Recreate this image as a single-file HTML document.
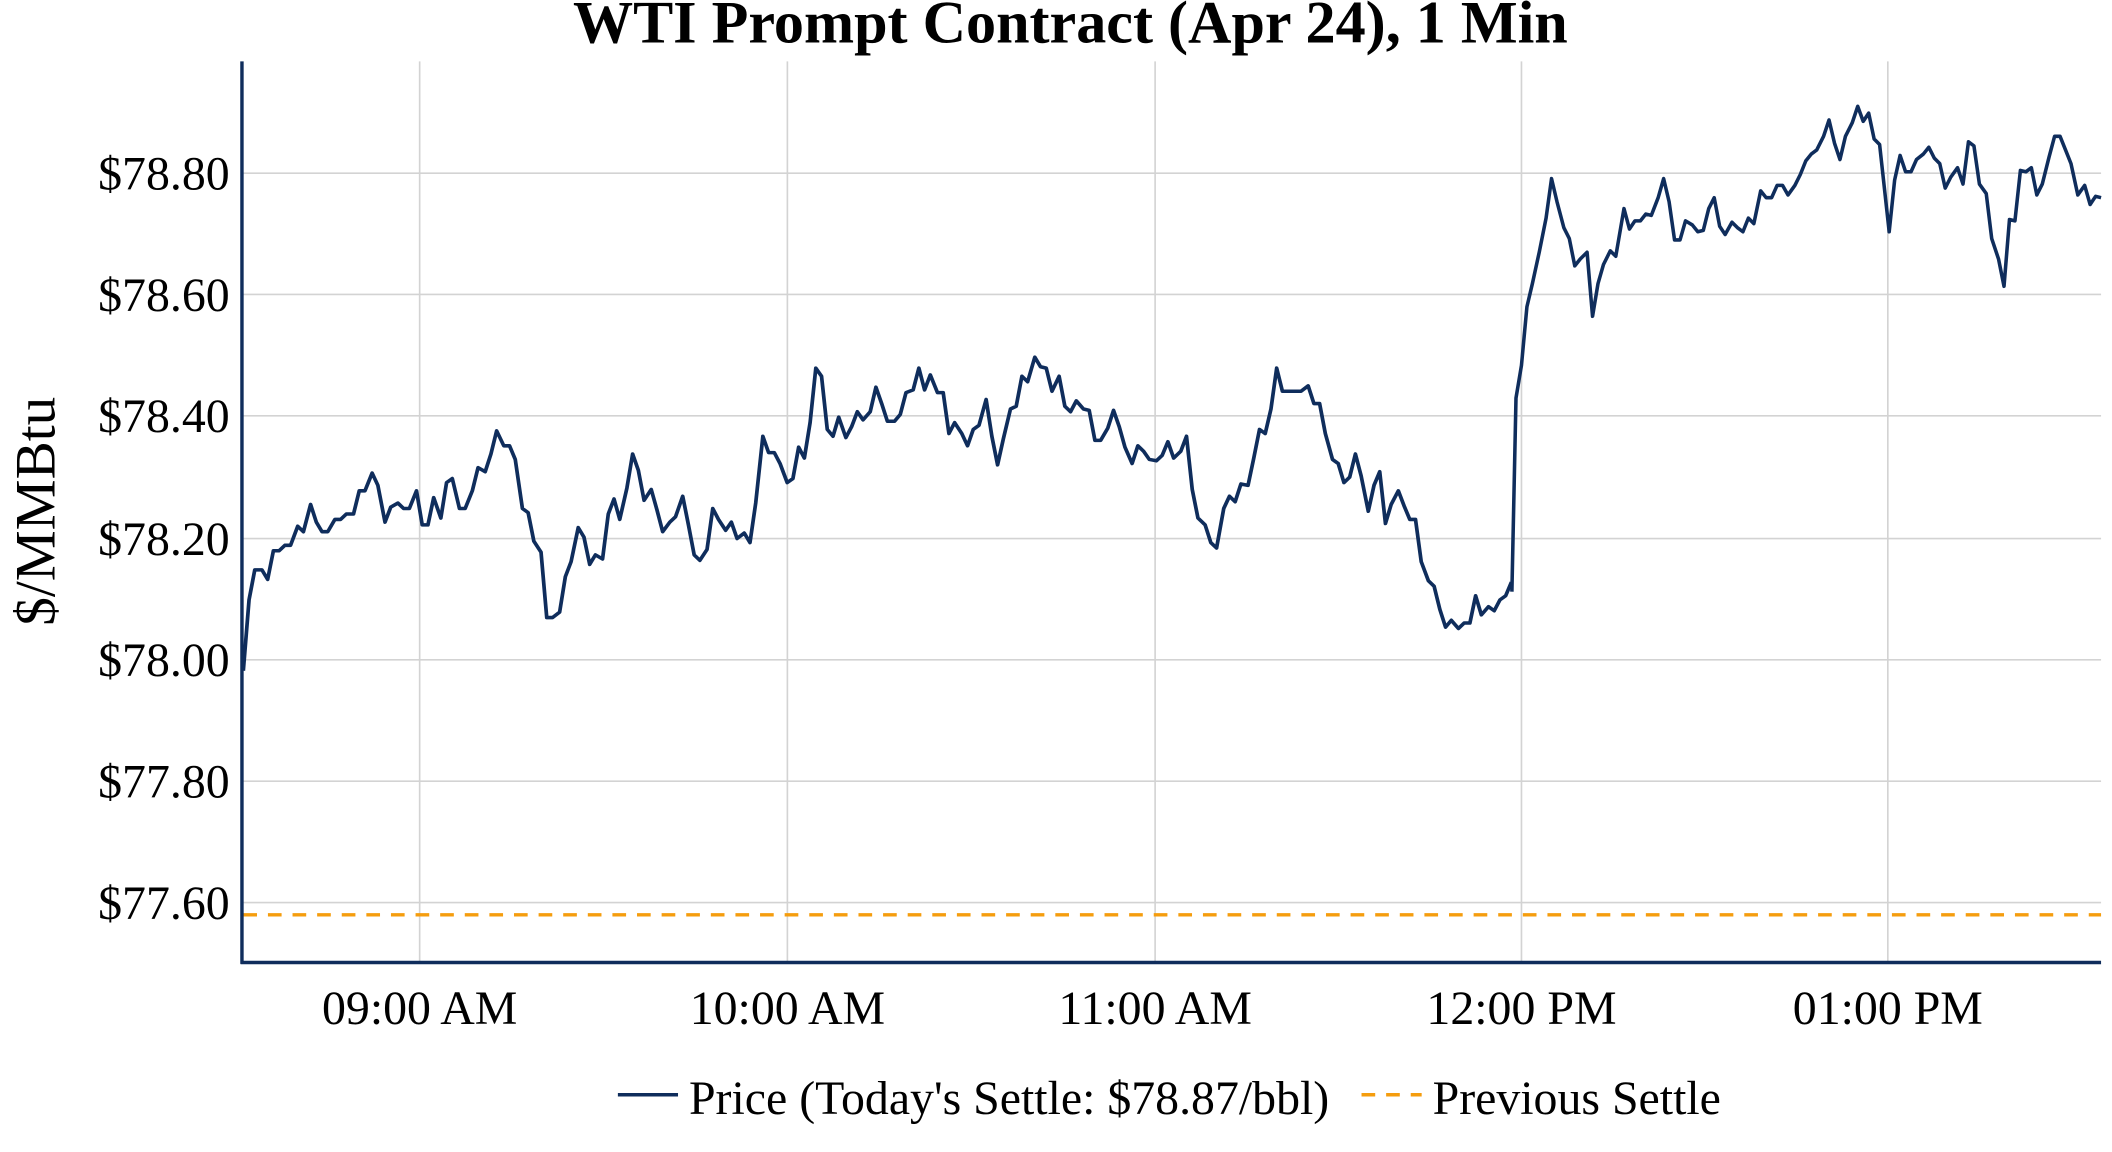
<!DOCTYPE html>
<html><head><meta charset="utf-8"><style>
html,body{margin:0;padding:0;background:#fff;}
svg{display:block;}
text{font-family:"Liberation Serif",serif;fill:#000;}
</style></head><body>
<svg width="2112" height="1152" viewBox="0 0 1545 845" preserveAspectRatio="none">
<g stroke="#d3d3d3" stroke-width="1.2">
<line x1="176" x2="1537" y1="127" y2="127"/><line x1="176" x2="1537" y1="216" y2="216"/>
<line x1="176" x2="1537" y1="305" y2="305"/><line x1="176" x2="1537" y1="395" y2="395"/>
<line x1="176" x2="1537" y1="484" y2="484"/><line x1="176" x2="1537" y1="573" y2="573"/>
<line x1="176" x2="1537" y1="662" y2="662"/>
<line x1="307" x2="307" y1="45" y2="706"/><line x1="576" x2="576" y1="45" y2="706"/>
<line x1="845" x2="845" y1="45" y2="706"/><line x1="1113" x2="1113" y1="45" y2="706"/>
<line x1="1381" x2="1381" y1="45" y2="706"/>
</g>
<line x1="178" x2="1537" y1="671" y2="671" stroke="#f59d0e" stroke-width="2.5" stroke-dasharray="10,8"/>
<g fill="none" stroke="#0f2d5c" stroke-width="2.6" stroke-linejoin="round">
<polyline transform="translate(178,0) scale(1.047,1) translate(-178,0)" points="178,492 182,440 186,418 191,418 195,425 199,404 203,404 207,400 211,400 216,386 220,390 225,370 229,383 233,390 237,390 242,381 246,381 250,377 255,377 259,360 263,360 268,347 272,356 277,383 281,372 286,369 290,373 294,373 299,360 303,385 307,385 311,365 316,380 320,354 324,351 329,373 333,373 338,360 342,343 347,346 351,333 355,316 360,327 364,327 368,337 373,373 377,376 381,397 386,405 390,453 394,453 399,449 403,423 407,412 412,387 416,394 420,414 424,407 429,410 433,377 437,366 441,381 446,358 450,333 454,345 458,367 463,359 467,374 471,390 476,383 480,379 485,364 489,385 493,407 497,411 502,403 506,373 510,381 515,389 519,383 523,395 528,391 532,398 536,369 541,320 545,332 549,332 553,340 558,354 562,351 566,328 570,336 574,310 578,270 582,276 586,315 590,320 594,306 599,321 603,313 607,302 611,308 616,302 620,284 624,296 628,309 633,309 637,304 641,288 646,286 650,270 654,286 658,275 663,288 667,288 671,318 675,310 680,318 684,327 688,315 692,312 697,293 701,320 705,341 709,322 714,300 718,298 722,276 726,280 731,262 735,269 739,270 743,287 748,276 752,298 756,302 760,294 765,300 769,301 773,323 777,323 782,314 786,301 790,313 794,328 799,340 803,327 807,331 811,337 816,338 820,334 824,324 828,336 833,331 837,320 841,359 845,380 850,385 854,398 858,402 863,373 867,364 871,368 875,355 880,356 884,336 888,315 892,318 896,300 900,270 904,287 909,287 913,287 917,287 922,283 926,296 930,296 934,318 939,337 943,340 947,354 951,350 955,333 959,349 964,375 968,356 972,346 976,384 980,370 985,360 989,371 993,381 997,381 1001,412 1006,426 1010,430 1014,447 1018,460 1022,455 1027,461 1031,457 1035,457 1039,437 1043,451 1048,445 1052,448 1056,440 1060,437 1064,427"/>
<polyline points="1106,434 1109,292 1113,268 1117,225 1121,208 1126,185 1131,160 1135,131 1139,148 1144,167 1148,175 1152,195 1156,190 1161,185 1165,232 1169,208 1173,194 1178,184 1182,188 1188,153 1192,168 1196,162 1200,162 1204,157 1208,158 1213,145 1217,131 1221,148 1225,176 1229,176 1233,162 1238,165 1242,170 1246,169 1250,153 1254,145 1258,166 1262,172 1267,163 1271,167 1275,170 1279,160 1283,164 1288,140 1292,145 1296,145 1300,136 1304,136 1308,143 1313,136 1317,128 1321,118 1325,113 1329,110 1334,100 1338,88 1342,105 1346,117 1350,100 1355,90 1359,78 1363,89 1367,83 1371,102 1375,106 1382,170 1386,132 1390,114 1394,126 1398,126 1402,117 1407,113 1411,108 1415,116 1419,120 1423,138 1427,130 1432,123 1436,135 1440,104 1444,107 1448,135 1453,142 1457,175 1462,190 1466,210 1470,161 1474,162 1478,125 1482,126 1486,123 1490,143 1494,135 1499,115 1503,100 1507,100 1511,110 1515,120 1520,143 1525,136 1529,150 1533,144 1537,145"/>
</g>
<line x1="177" x2="177" y1="45" y2="707" stroke="#0f2d5c" stroke-width="2.5"/>
<line x1="176" x2="1537" y1="706" y2="706" stroke="#0f2d5c" stroke-width="2.5"/>
<g font-size="35" text-anchor="end">
<text x="168" y="139">$78.80</text><text x="168" y="228">$78.60</text>
<text x="168" y="317">$78.40</text><text x="168" y="407">$78.20</text>
<text x="168" y="496">$78.00</text><text x="168" y="585">$77.80</text>
<text x="168" y="674">$77.60</text>
</g>
<g font-size="35" text-anchor="middle">
<text x="307" y="751">09:00 AM</text><text x="576" y="751">10:00 AM</text>
<text x="845" y="751">11:00 AM</text><text x="1113" y="751">12:00 PM</text>
<text x="1381" y="751">01:00 PM</text>
</g>
<text x="783" y="31" font-size="44" font-weight="bold" text-anchor="middle">WTI Prompt Contract (Apr 24), 1 Min</text>
<text transform="translate(40,375) rotate(-90)" font-size="42" text-anchor="middle">$/MMBtu</text>
<line x1="452" x2="496" y1="803" y2="803" stroke="#0f2d5c" stroke-width="2.6"/>
<text x="504" y="817" font-size="35">Price (Today's Settle: $78.87/bbl)</text>
<line x1="996" x2="1040" y1="803" y2="803" stroke="#f59d0e" stroke-width="2.6" stroke-dasharray="10,8"/>
<text x="1048" y="817" font-size="35">Previous Settle</text>
</svg>
</body></html>
